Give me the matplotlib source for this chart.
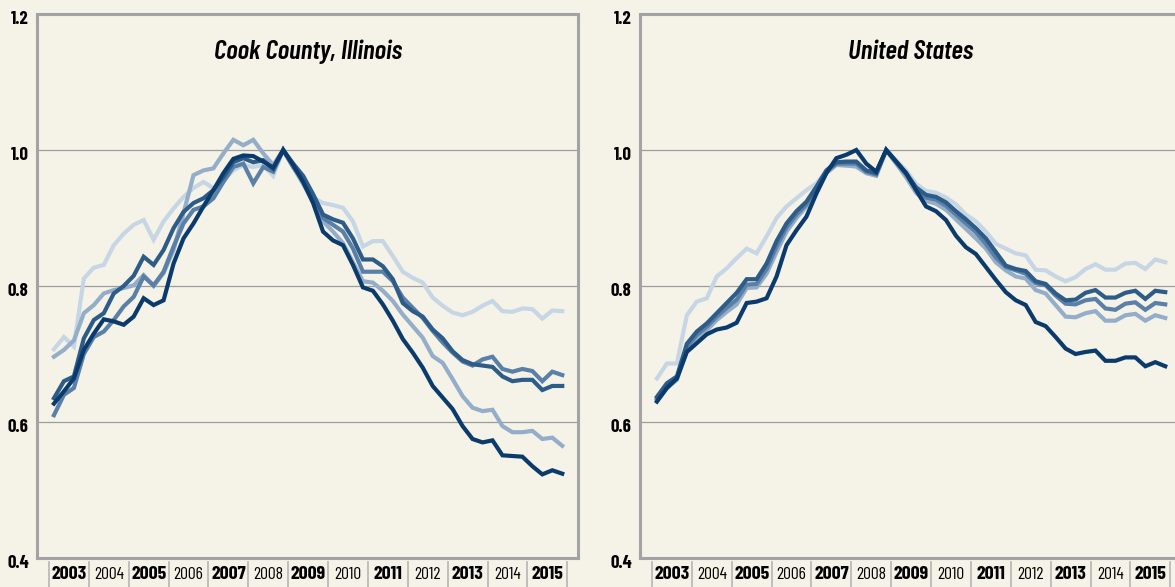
import numpy as np
import matplotlib
matplotlib.use('Agg')
import matplotlib.pyplot as plt
from matplotlib import font_manager as fm
from matplotlib.transforms import blended_transform_factory, ScaledTranslation

# quarterly index, peak = 1.0 (2008 Q4)
years = list(range(2003, 2016))
quarters = np.arange(2003, 2016, 0.25) + 0.125

cook_1 = [0.627, 0.645, 0.664, 0.706, 0.730, 0.751, 0.748, 0.743, 0.755, 0.782,
          0.772, 0.779, 0.833, 0.870, 0.892, 0.917, 0.941, 0.966, 0.987, 0.992,
          0.991, 0.983, 0.974, 1.000, 0.978, 0.953, 0.922, 0.880, 0.867, 0.860,
          0.831, 0.798, 0.793, 0.773, 0.749, 0.722, 0.702, 0.680, 0.653, 0.636,
          0.619, 0.594, 0.575, 0.570, 0.573, 0.551, 0.550, 0.549, 0.535, 0.523,
          0.529, 0.524]
cook_2 = [0.635, 0.660, 0.667, 0.723, 0.750, 0.760, 0.789, 0.800, 0.815, 0.843,
          0.831, 0.853, 0.885, 0.909, 0.922, 0.929, 0.941, 0.960, 0.982, 0.988,
          0.982, 0.985, 0.972, 1.000, 0.980, 0.962, 0.935, 0.905, 0.898, 0.893,
          0.870, 0.839, 0.839, 0.829, 0.810, 0.775, 0.763, 0.755, 0.736, 0.723,
          0.704, 0.691, 0.685, 0.683, 0.681, 0.667, 0.660, 0.662, 0.662, 0.647,
          0.653, 0.653]
cook_3 = [0.610, 0.640, 0.650, 0.700, 0.725, 0.733, 0.750, 0.770, 0.784, 0.814,
          0.801, 0.821, 0.858, 0.892, 0.912, 0.917, 0.929, 0.953, 0.975, 0.980,
          0.951, 0.975, 0.968, 1.000, 0.975, 0.955, 0.930, 0.900, 0.890, 0.880,
          0.855, 0.821, 0.821, 0.821, 0.807, 0.783, 0.768, 0.753, 0.734, 0.717,
          0.702, 0.689, 0.683, 0.692, 0.696, 0.678, 0.674, 0.678, 0.675, 0.660,
          0.674, 0.669]
cook_4 = [0.696, 0.706, 0.720, 0.760, 0.772, 0.789, 0.794, 0.797, 0.801, 0.816,
          0.800, 0.819, 0.853, 0.907, 0.963, 0.970, 0.973, 0.995, 1.015, 1.007,
          1.015, 0.995, 0.978, 1.000, 0.975, 0.950, 0.925, 0.895, 0.880, 0.863,
          0.835, 0.807, 0.805, 0.793, 0.778, 0.758, 0.741, 0.724, 0.697, 0.687,
          0.663, 0.638, 0.621, 0.616, 0.618, 0.594, 0.585, 0.585, 0.587, 0.575,
          0.577, 0.565]
cook_5 = [0.707, 0.725, 0.711, 0.811, 0.827, 0.831, 0.860, 0.877, 0.890, 0.897,
          0.868, 0.895, 0.914, 0.931, 0.944, 0.953, 0.944, 0.955, 0.970, 0.978,
          0.975, 0.978, 0.962, 1.000, 0.975, 0.955, 0.930, 0.922, 0.919, 0.915,
          0.895, 0.858, 0.866, 0.866, 0.844, 0.821, 0.812, 0.805, 0.783, 0.771,
          0.761, 0.757, 0.762, 0.771, 0.778, 0.763, 0.762, 0.767, 0.766, 0.752,
          0.764, 0.763]

us_1 = [0.630, 0.650, 0.664, 0.703, 0.716, 0.729, 0.736, 0.739, 0.746, 0.775,
        0.777, 0.782, 0.814, 0.860, 0.882, 0.902, 0.936, 0.966, 0.988, 0.993,
        1.000, 0.980, 0.968, 1.000, 0.983, 0.966, 0.941, 0.917, 0.910, 0.897,
        0.874, 0.857, 0.847, 0.828, 0.809, 0.791, 0.779, 0.772, 0.747, 0.741,
        0.725, 0.708, 0.700, 0.703, 0.705, 0.690, 0.690, 0.695, 0.695, 0.682,
        0.688, 0.682]
us_2 = [0.637, 0.657, 0.667, 0.715, 0.733, 0.745, 0.760, 0.775, 0.790, 0.810,
        0.810, 0.833, 0.866, 0.892, 0.910, 0.924, 0.946, 0.970, 0.982, 0.983,
        0.983, 0.970, 0.966, 1.000, 0.983, 0.966, 0.945, 0.934, 0.931, 0.923,
        0.910, 0.898, 0.885, 0.870, 0.850, 0.830, 0.825, 0.822, 0.807, 0.803,
        0.789, 0.779, 0.780, 0.790, 0.794, 0.783, 0.783, 0.790, 0.793, 0.781,
        0.793, 0.791]
us_3 = [0.634, 0.653, 0.664, 0.710, 0.728, 0.740, 0.755, 0.768, 0.780, 0.802,
        0.803, 0.825, 0.858, 0.886, 0.905, 0.920, 0.944, 0.968, 0.980, 0.980,
        0.980, 0.968, 0.964, 1.000, 0.982, 0.964, 0.942, 0.930, 0.927, 0.918,
        0.905, 0.892, 0.879, 0.862, 0.842, 0.828, 0.823, 0.818, 0.804, 0.801,
        0.786, 0.774, 0.773, 0.779, 0.781, 0.767, 0.765, 0.774, 0.776, 0.765,
        0.775, 0.773]
us_4 = [0.632, 0.650, 0.662, 0.705, 0.724, 0.735, 0.750, 0.762, 0.773, 0.797,
        0.798, 0.818, 0.850, 0.880, 0.900, 0.917, 0.942, 0.966, 0.978, 0.977,
        0.976, 0.966, 0.962, 1.000, 0.980, 0.960, 0.937, 0.925, 0.921, 0.912,
        0.898, 0.884, 0.870, 0.855, 0.835, 0.823, 0.814, 0.811, 0.794, 0.789,
        0.772, 0.755, 0.754, 0.760, 0.763, 0.749, 0.749, 0.757, 0.759, 0.749,
        0.757, 0.753]
us_5 = [0.664, 0.686, 0.686, 0.757, 0.777, 0.782, 0.814, 0.826, 0.841, 0.855,
        0.848, 0.873, 0.900, 0.917, 0.929, 0.941, 0.951, 0.968, 0.983, 0.978,
        0.975, 0.966, 0.963, 1.000, 0.985, 0.970, 0.950, 0.940, 0.937, 0.930,
        0.920, 0.905, 0.895, 0.880, 0.862, 0.855, 0.848, 0.845, 0.824, 0.823,
        0.814, 0.807, 0.813, 0.825, 0.832, 0.824, 0.824, 0.833, 0.834, 0.825,
        0.839, 0.835]

colors = ['#0b3b6c', '#2e5c88', '#5b80a7', '#94aec9', '#c7d6e4']
bg = '#f5f3e8'

# pick a condensed face if one is around
names = {f.name for f in fm.fontManager.ttflist}
FONT = 'DejaVu Sans'
for cand in ['Barlow Condensed', 'Roboto Condensed', 'Fira Sans Condensed',
             'Archivo Narrow', 'PT Sans Narrow', 'Open Sans Condensed',
             'Liberation Sans Narrow', 'Barlow Semi Condensed']:
    if cand in names:
        FONT = cand
        break
plt.rcParams['font.family'] = FONT

fig = plt.figure(figsize=(11.75, 5.87), dpi=100, facecolor=bg)
ax1 = fig.add_axes([37 / 1175, 29 / 587, 541 / 1175, 544 / 587])
ax2 = fig.add_axes([640 / 1175, 29 / 587, 541 / 1175, 544 / 587])
renderer = fig.canvas.get_renderer()


def size_for(txt, px, **kw):
    # font size that makes txt about px pixels wide
    t = fig.text(0, 0, txt, fontsize=10, **kw)
    w = t.get_window_extent(renderer).width
    t.remove()
    return 10 * px / w


fs_title = size_for('Cook County, Illinois', 188, style='italic', fontweight='semibold')
fs_odd = size_for('2003', 35, fontweight='bold')
fs_even = size_for('2004', 30)
fs_ytick = size_for('0.4', 22, fontweight='bold')


def setup(ax, title, series):
    ax.set_facecolor(bg)
    ax.set_xlim(2002.70, 2016.27)
    ax.set_ylim(0.4, 1.2)
    for v in (0.6, 0.8, 1.0):
        ax.axhline(v, color='#9c9c9c', lw=0.9, zorder=1)
    for s, c in reversed(list(zip(series, colors))):
        ax.plot(quarters, s, color=c, lw=3.0, solid_joinstyle='miter', zorder=2)

    ax.set_yticks([0.4, 0.6, 0.8, 1.0, 1.2])
    ax.set_yticklabels(['0.4', '0.6', '0.8', '1.0', '1.2'])
    ax.tick_params(axis='y', length=0, pad=6, labelsize=fs_ytick)
    off = ScaledTranslation(0, -0.04, fig.dpi_scale_trans)
    for lbl in ax.get_yticklabels():
        lbl.set_fontweight('bold')
        lbl.set_transform(lbl.get_transform() + off)
    ax.set_xticks([])
    for sp in ax.spines.values():
        sp.set_color('#a3a3a3')
        sp.set_linewidth(2.2)

    trans = blended_transform_factory(ax.transData, ax.transAxes)
    for y in years + [2016]:
        ax.plot([y, y], [-0.008, -0.06], transform=trans, clip_on=False,
                color='#b5b5b5', lw=1.2)
    for y in years:
        odd = y % 2 == 1
        ax.text(y + 0.5, -0.03, str(y), transform=trans, ha='center', va='center',
                fontweight='bold' if odd else 'normal',
                fontsize=fs_odd if odd else fs_even)
    ax.text(0.5, 0.93, title, transform=ax.transAxes, ha='center', va='center',
            fontsize=fs_title, style='italic', fontweight='semibold')


setup(ax1, 'Cook County, Illinois', [cook_1, cook_2, cook_3, cook_4, cook_5])
setup(ax2, 'United States', [us_1, us_2, us_3, us_4, us_5])

fig.savefig('out.png', dpi=100, facecolor=bg)
